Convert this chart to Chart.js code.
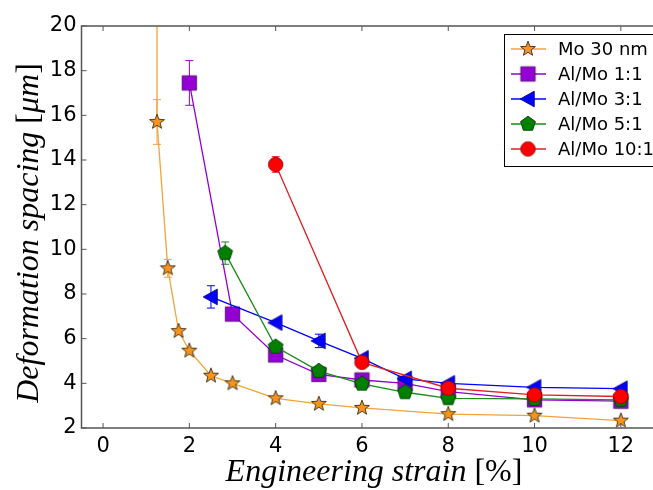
<!DOCTYPE html>
<html>
<head>
<meta charset="utf-8">
<script src="https://cdn.jsdelivr.net/npm/chart.js@4/dist/chart.umd.min.js"></script>
<style>
  html, body { margin: 0; padding: 0; background: #fff; overflow: hidden; }
  #wrap { width: 653px; height: 490px; overflow: hidden; }
</style>
</head>
<body>
<div id="wrap"><canvas id="strainChart" width="680" height="490"></canvas></div>
<script>
// axis ticks
const xTicks = [0, 2, 4, 6, 8, 10, 12];
const yTicks = [2, 4, 6, 8, 10, 12, 14, 16, 18, 20];

// Mo 30 nm (first point runs off the top of the plot)
const moX   = [1.25, 1.25, 1.5, 1.75, 2, 2.5, 3, 4, 5, 6, 8, 10, 12];
const moY   = [45, 15.7, 9.15, 6.34, 5.46, 4.34, 4.0, 3.33, 3.08, 2.9, 2.62, 2.55, 2.33];
const moErr = [0, 1.0, 0.4, 0, 0, 0, 0, 0, 0, 0, 0, 0, 0];

// Al/Mo 1:1
const al11X   = [2, 3, 4, 5, 6, 7, 8, 10, 12];
const al11Y   = [17.45, 7.1, 5.27, 4.4, 4.15, 4.0, 3.63, 3.26, 3.2];
const al11Err = [1.0, 0, 0, 0, 0, 0, 0, 0, 0];

// Al/Mo 3:1
const al31X   = [2.5, 4, 5, 6, 7, 8, 10, 12];
const al31Y   = [7.87, 6.72, 5.9, 5.12, 4.2, 4.0, 3.82, 3.76];
const al31Err = [0.5, 0, 0.3, 0, 0, 0, 0, 0];

// Al/Mo 5:1
const al51X   = [2.83, 4, 5, 6, 7, 8, 10, 12];
const al51Y   = [9.83, 5.64, 4.55, 3.98, 3.6, 3.33, 3.3, 3.26];
const al51Err = [0.5, 0, 0, 0, 0, 0, 0, 0];

// Al/Mo 10:1
const al101X   = [4, 6, 8, 10, 12];
const al101Y   = [13.8, 4.94, 3.78, 3.48, 3.41];
const al101Err = [0.35, 0, 0, 0, 0];

const labels = ['Mo 30 nm', 'Al/Mo 1:1', 'Al/Mo 3:1', 'Al/Mo 5:1', 'Al/Mo 10:1'];

// marker images, matplotlib-ish
function makeMarker(shape, r, fill, edge) {
  const pad = 2;
  const c = document.createElement('canvas');
  c.width = c.height = Math.ceil(2 * r + 2 * pad);
  const g = c.getContext('2d');
  const cx = c.width / 2, cy = c.height / 2;
  g.beginPath();
  if (shape === 'star') {
    for (let i = 0; i < 10; i++) {
      const rr = i % 2 === 0 ? r : r * 0.42;
      const a = -Math.PI / 2 + i * Math.PI / 5;
      g.lineTo(cx + rr * Math.cos(a), cy + rr * Math.sin(a));
    }
  } else if (shape === 'square') {
    g.rect(cx - r, cy - r, 2 * r, 2 * r);
  } else if (shape === 'tri') {
    g.moveTo(cx - r, cy);
    g.lineTo(cx + r * 0.8, cy - r);
    g.lineTo(cx + r * 0.8, cy + r);
  } else if (shape === 'pent') {
    for (let i = 0; i < 5; i++) {
      const a = -Math.PI / 2 + i * 2 * Math.PI / 5;
      g.lineTo(cx + r * Math.cos(a), cy + r * Math.sin(a));
    }
  } else {
    g.arc(cx, cy, r, 0, Math.PI * 2);
  }
  g.closePath();
  g.fillStyle = fill;
  g.fill();
  g.lineWidth = 0.9;
  g.strokeStyle = edge;
  g.stroke();
  return c;
}

const styles = [
  { line: '#f2a33a', marker: makeMarker('star', 7.8, '#f7941d', '#3b2a12') },
  { line: '#9400d3', marker: makeMarker('square', 7.2, '#9400d3', '#4d0a70') },
  { line: '#0000ff', marker: makeMarker('tri', 7.8, '#0000ff', '#00008a') },
  { line: '#1a8a1a', marker: makeMarker('pent', 7.8, '#007f00', '#004000') },
  { line: '#e02020', marker: makeMarker('circle', 7.2, '#ff0000', '#990000') }
];

const xs = [moX, al11X, al31X, al51X, al101X];
const ys = [moY, al11Y, al31Y, al51Y, al101Y];
const errs = [moErr, al11Err, al31Err, al51Err, al101Err];

const datasets = labels.map((lab, i) => ({
  label: lab,
  data: xs[i].map((x, j) => ({ x: x, y: ys[i][j] })),
  borderColor: styles[i].line,
  borderWidth: 1.3,
  pointStyle: styles[i].marker,
  pointRadius: 7,
  fill: false,
  tension: 0,
  order: 5 - i,
  errors: errs[i]
}));

const framePlugin = {
  id: 'frame',
  beforeDatasetsDraw(chart) {
    // error bars, behind the markers
    const ctx = chart.ctx, xs_ = chart.scales.x, ys_ = chart.scales.y;
    ctx.save();
    ctx.beginPath();
    ctx.rect(chart.chartArea.left, chart.chartArea.top, chart.chartArea.right - chart.chartArea.left, chart.chartArea.bottom - chart.chartArea.top);
    ctx.clip();
    chart.data.datasets.forEach(ds => {
      ctx.strokeStyle = ds.borderColor;
      ctx.lineWidth = 1;
      ds.data.forEach((p, j) => {
        const e = ds.errors[j];
        if (!e) return;
        const px = xs_.getPixelForValue(p.x);
        const y1 = ys_.getPixelForValue(p.y + e);
        const y2 = ys_.getPixelForValue(p.y - e);
        ctx.beginPath();
        ctx.moveTo(px, y1); ctx.lineTo(px, y2);
        ctx.moveTo(px - 4, y1); ctx.lineTo(px + 4, y1);
        ctx.moveTo(px - 4, y2); ctx.lineTo(px + 4, y2);
        ctx.stroke();
      });
    });
    ctx.restore();
  },
  afterDraw(chart) {
    const ctx = chart.ctx;
    const a = chart.chartArea;
    const sx = chart.scales.x, sy = chart.scales.y;
    ctx.save();
    // frame
    ctx.strokeStyle = '#555';
    ctx.lineWidth = 1.5;
    ctx.strokeRect(a.left, a.top, a.right - a.left, a.bottom - a.top);
    // inward ticks
    ctx.lineWidth = 1;
    ctx.beginPath();
    xTicks.forEach(v => {
      const px = sx.getPixelForValue(v);
      ctx.moveTo(px, a.bottom); ctx.lineTo(px, a.bottom - 5);
      ctx.moveTo(px, a.top); ctx.lineTo(px, a.top + 5);
    });
    yTicks.forEach(v => {
      const py = sy.getPixelForValue(v);
      ctx.moveTo(a.left, py); ctx.lineTo(a.left + 5, py);
    });
    ctx.stroke();

    // axis titles, LaTeX-like: italic words, upright brackets
    const ital = 'italic 32px "Liberation Serif"';
    const rom = '32px "Liberation Serif"';
    function drawParts(parts, cx, cy) {
      let w = 0;
      parts.forEach(p => { ctx.font = p[1]; w += ctx.measureText(p[0]).width; });
      let x = cx - w / 2;
      ctx.fillStyle = '#000';
      ctx.textBaseline = 'alphabetic';
      ctx.textAlign = 'left';
      parts.forEach(p => { ctx.font = p[1]; ctx.fillText(p[0], x, cy); x += ctx.measureText(p[0]).width; });
    }
    drawParts([['Engineering strain ', ital], ['[%]', rom]], 374, 481);
    ctx.save();
    ctx.translate(38, 233);
    ctx.rotate(-Math.PI / 2);
    drawParts([['Deformation spacing ', ital], ['[', rom], ['\u03BCm', ital], [']', rom]], 0, 0);
    ctx.restore();

    // legend box
    const lx = 504, ly = 34, lw = 160, lh = 132;
    ctx.fillStyle = '#fff';
    ctx.fillRect(lx, ly, lw, lh);
    ctx.strokeStyle = '#000';
    ctx.lineWidth = 1;
    ctx.strokeRect(lx + 0.5, ly + 0.5, lw, lh);
    chart.data.datasets.forEach((ds, i) => {
      const rowY = 49 + i * 25;
      ctx.strokeStyle = ds.borderColor;
      ctx.lineWidth = 1.3;
      ctx.beginPath();
      ctx.moveTo(511, rowY); ctx.lineTo(546, rowY);
      ctx.stroke();
      const img = ds.pointStyle;
      ctx.drawImage(img, 528 - img.width / 2, rowY - img.height / 2);
      ctx.fillStyle = '#000';
      ctx.font = '18px "DejaVu Sans"';
      ctx.textBaseline = 'middle';
      ctx.textAlign = 'left';
      ctx.fillText(ds.label, 558, rowY + 1);
    });
    ctx.restore();
  }
};

new Chart(document.getElementById('strainChart'), {
  type: 'line',
  data: { datasets: datasets },
  plugins: [framePlugin],
  options: {
    responsive: false,
    animation: false,
    events: [],
    layout: { padding: { left: 0, top: 26, right: 16, bottom: 0 } },
    plugins: { legend: { display: false }, tooltip: { enabled: false } },
    scales: {
      x: {
        type: 'linear',
        min: -0.5,
        max: 13,
        afterBuildTicks: s => { s.ticks = xTicks.map(v => ({ value: v })); },
        afterFit: s => { s.height = 62; },
        grid: { display: false, drawTicks: false },
        border: { display: false },
        ticks: { color: '#000', padding: 6, font: { family: 'DejaVu Sans', size: 21 }, maxRotation: 0 }
      },
      y: {
        type: 'linear',
        min: 2,
        max: 20,
        afterBuildTicks: s => { s.ticks = yTicks.map(v => ({ value: v })); },
        afterFit: s => { s.width = 81.5; },
        grid: { display: false, drawTicks: false },
        border: { display: false },
        ticks: { color: '#000', padding: 5, font: { family: 'DejaVu Sans', size: 21 } }
      }
    }
  }
});
</script>
</body>
</html>
